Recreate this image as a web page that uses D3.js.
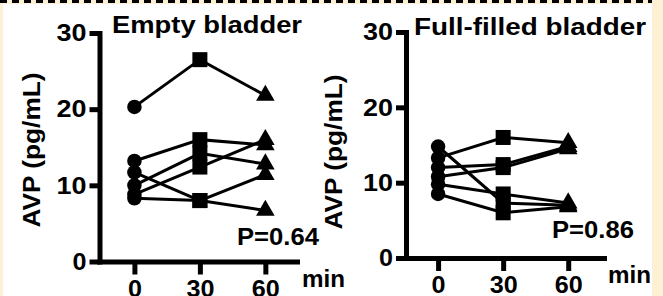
<!DOCTYPE html>
<html lang="en">
<head>
  <meta charset="UTF-8">
  <title>AVP</title>
  <script src="https://cdn.jsdelivr.net/npm/d3@7"></script>
  <style>
    body { margin: 0; background: #fdf0d4; }
    svg { display: block; }
    text { font-family: "Liberation Sans", Arial, sans-serif; font-weight: bold; fill: #000; }
  </style>
</head>
<body>
<div id="chart"></div>
<script>
// time points (min) and y ticks
const times = [0, 30, 60];
const yTicks = [0, 10, 20, 30];

// AVP (pg/mL) per subject at 0 / 30 / 60 min
const emptyBladder = [
  [20.3, 26.5, 21.8],
  [13.2, 16.0, 15.3],
  [10.0, 14.2, 12.8],
  [8.8, 12.4, 16.0],
  [11.7, 8.0, 11.4],
  [8.3, 8.0, 6.7]
];
const fullBladder = [
  [13.3, 16.0, 15.3],
  [12.0, 12.4, 14.8],
  [10.8, 12.0, 14.5],
  [14.8, 7.3, 7.0],
  [9.8, 8.5, 7.3],
  [8.5, 6.0, 6.8]
];
const titles = ["Empty bladder", "Full-filled bladder"];
const pValues = ["P=0.64", "P=0.86"];

const W = 663, H = 296;
const svg = d3.select("#chart").append("svg").attr("width", W).attr("height", H);

// white card + dashed top border
svg.append("rect").attr("x", 3).attr("y", 4).attr("width", 649).attr("height", H - 4).attr("fill", "#fff");
svg.append("line").attr("x1", 0).attr("x2", 652).attr("y1", 1.5).attr("y2", 1.5)
  .attr("stroke", "#000").attr("stroke-width", 3).attr("stroke-dasharray", "7,5");

const symbols = [d3.symbolCircle, d3.symbolSquare, d3.symbolTriangle];
const symSize = [165, 225, 150];

function drawPanel(o) {
  const g = svg.append("g");
  const x = d3.scaleLinear().domain([o.xMin, o.xMax]).range([o.left, o.right]);
  const y = d3.scaleLinear().domain([0, 30]).range([o.bottom, o.top]);

  const xAxis = d3.axisBottom(x).tickValues(times).tickSize(13).tickSizeOuter(0).tickPadding(5);
  const yAxis = d3.axisLeft(y).tickValues(yTicks).tickSize(10).tickSizeOuter(0).tickPadding(3);

  const xg = g.append("g").attr("transform", `translate(0,${o.bottom})`).call(xAxis);
  const yg = g.append("g").attr("transform", `translate(${o.left},0)`).call(yAxis);
  [xg, yg].forEach(a => {
    a.attr("font-family", null).attr("font-size", null);
    a.select(".domain").attr("stroke-width", 5).attr("stroke-linecap", "square");
    a.selectAll(".tick line").attr("stroke-width", 5);
    a.selectAll(".tick text").style("font-size", "24px");
  });
  yg.selectAll(".tick text").each(function (d) {
    d3.select(this).attr("textLength", d === 0 ? 14 : 30).attr("lengthAdjust", "spacingAndGlyphs");
  });
  xg.selectAll(".tick text").each(function (d) {
    d3.select(this).attr("textLength", d === 0 ? 14 : 28).attr("lengthAdjust", "spacingAndGlyphs");
  });

  // subject lines
  const line = d3.line().x((d, i) => x(times[i])).y(d => y(d));
  g.append("g").selectAll("path").data(o.data).join("path")
    .attr("d", line).attr("fill", "none").attr("stroke", "#000").attr("stroke-width", 3);

  // markers
  o.data.forEach(s => {
    s.forEach((v, i) => {
      g.append("path")
        .attr("d", d3.symbol().type(symbols[i]).size(symSize[i])())
        .attr("transform", `translate(${x(times[i])},${y(v)})`);
    });
  });

  g.append("text").attr("x", o.titleX).attr("y", o.titleY).style("font-size", "24px")
    .attr("textLength", o.titleLen).attr("lengthAdjust", "spacingAndGlyphs").text(o.title);
  g.append("text").attr("transform", `translate(${o.labelX},${o.labelY}) rotate(-90)`)
    .attr("text-anchor", "middle").style("font-size", "24px")
    .attr("textLength", 155).attr("lengthAdjust", "spacingAndGlyphs").text("AVP (pg/mL)");
  g.append("text").attr("x", o.pX).attr("y", o.pY).style("font-size", "24px")
    .attr("textLength", 82).attr("lengthAdjust", "spacingAndGlyphs").text(o.p);
  g.append("text").attr("x", o.minX).attr("y", o.minY).style("font-size", "24px")
    .attr("textLength", 43).attr("lengthAdjust", "spacingAndGlyphs").text("min");
}

drawPanel({
  data: emptyBladder, title: titles[0], p: pValues[0],
  xMin: -16, xMax: 74.5, left: 99.5, right: 297, top: 33, bottom: 261.5,
  titleX: 112, titleY: 33, titleLen: 190,
  labelX: 40, labelY: 150, pX: 237, pY: 245, minX: 302, minY: 287
});
drawPanel({
  data: fullBladder, title: titles[1], p: pValues[1],
  xMin: -14.8, xMax: 76.5, left: 406, right: 604, top: 32, bottom: 258,
  titleX: 414, titleY: 35, titleLen: 232,
  labelX: 342, labelY: 152, pX: 552, pY: 238, minX: 608, minY: 283
});
</script>
</body>
</html>
